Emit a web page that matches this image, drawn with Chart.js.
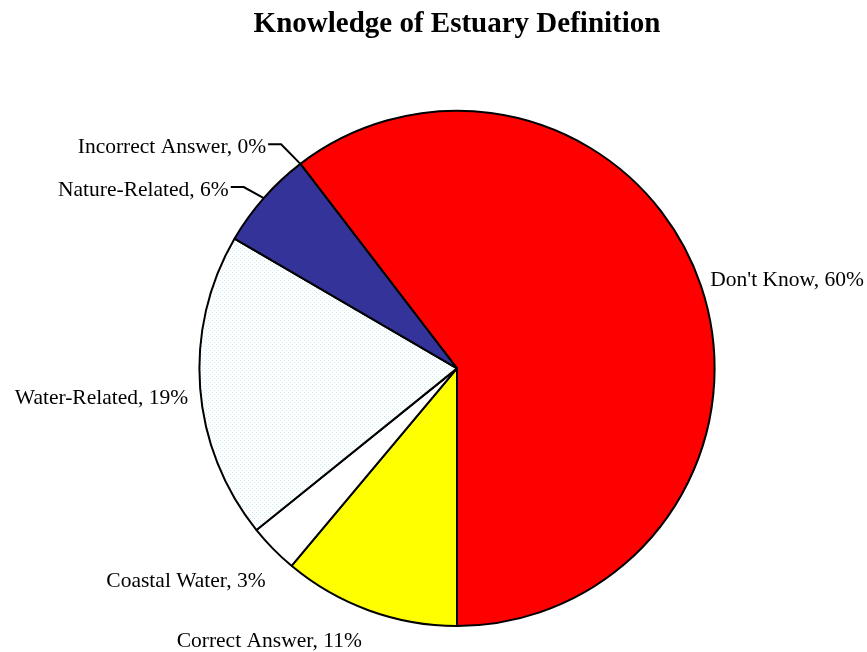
<!DOCTYPE html>
<html>
<head>
<meta charset="utf-8">
<script src="https://cdn.jsdelivr.net/npm/chart.js@4/dist/chart.umd.min.js"></script>
<style>
  html, body { margin: 0; padding: 0; background: #fff; }
  #wrap { width: 867px; height: 652px; }
</style>
</head>
<body>
<div id="wrap"><canvas id="pie-chart"></canvas></div>
<script>
'use strict';

const categories = ["Don't Know", 'Correct Answer', 'Coastal Water', 'Water-Related', 'Nature-Related', 'Incorrect Answer'];
const percents = [60.4, 11.1, 3.1, 19.2, 6.2, 0];
const sliceColors = ['#ff0000', '#ffff00', '#ffffff', 'dots', '#333399', '#ffffff'];

const LABEL_FONT = '21.5px "Liberation Serif", "Times New Roman", serif';

// light dotted fill used by Excel for the water slice
function dotPattern() {
  let c = document.createElement('canvas');
  c.width = 4;
  c.height = 4;
  let g = c.getContext('2d');
  g.fillStyle = '#ffffff';
  g.fillRect(0, 0, 4, 4);
  g.fillStyle = '#c4eef8';
  g.fillRect(0, 0, 1, 1);
  g.fillRect(2, 2, 1, 1);
  return g.createPattern(c, 'repeat');
}

const sliceLabels = {
  id: 'sliceLabels',
  afterDatasetsDraw(chart, args, opts) {
    let ctx = chart.ctx;
    let meta = chart.getDatasetMeta(0);
    ctx.save();
    ctx.font = LABEL_FONT;
    ctx.fillStyle = '#000';
    ctx.strokeStyle = '#000';
    ctx.lineWidth = 2;
    ctx.textBaseline = 'middle';
    meta.data.forEach((arc, i) => {
      let p = arc.getProps(['x', 'y', 'startAngle', 'endAngle', 'outerRadius'], true);
      let mid = (p.startAngle + p.endAngle) / 2;
      let r = p.outerRadius + opts.gap;
      let n = opts.nudge[i];
      let ax = p.x + Math.cos(mid) * r + n[0];
      let ay = p.y + Math.sin(mid) * r + n[1];
      ctx.textAlign = Math.cos(mid) < 0 ? 'right' : 'left';
      ctx.fillText(`${categories[i]}, ${Math.round(percents[i])}%`, ax, ay);
      if (opts.leader[i]) {
        let ex = p.x + Math.cos(mid) * p.outerRadius;
        let ey = p.y + Math.sin(mid) * p.outerRadius;
        ctx.beginPath();
        ctx.moveTo(ax + 2, ay - 3);
        ctx.lineTo(ax + 15, ay - 3);
        ctx.lineTo(ex, ey);
        ctx.stroke();
      }
    });
    ctx.restore();
  },
};

const total = percents.reduce((a, b) => a + b, 0);
const colors = sliceColors.map(c => (c === 'dots' ? dotPattern() : c));

new Chart(document.getElementById('pie-chart'), {
  type: 'pie',
  data: {
    labels: categories,
    datasets: [{
      data: percents,
      backgroundColor: colors,
      borderColor: '#000',
      borderWidth: 2,
    }],
  },
  options: {
    responsive: true,
    maintainAspectRatio: false,
    animation: false,
    rotation: 180 - 360 * percents[0] / total,
    layout: {
      padding: { left: 190, right: 143, top: 7, bottom: 25 },
    },
    plugins: {
      legend: { display: false },
      tooltip: { enabled: false },
      title: {
        display: true,
        text: 'Knowledge of Estuary Definition',
        color: '#000',
        font: { family: '"Liberation Serif", "Times New Roman", serif', size: 29, weight: 'bold', lineHeight: 1.2 },
        padding: { top: 0, bottom: 68 },
      },
      sliceLabels: {
        gap: 12,
        nudge: [[-2, -2], [-3, 20], [1, 24], [0, 10], [-26, 0], [-27, -7]],
        leader: [false, false, false, false, true, true],
      },
    },
  },
  plugins: [sliceLabels],
});
</script>
</body>
</html>
